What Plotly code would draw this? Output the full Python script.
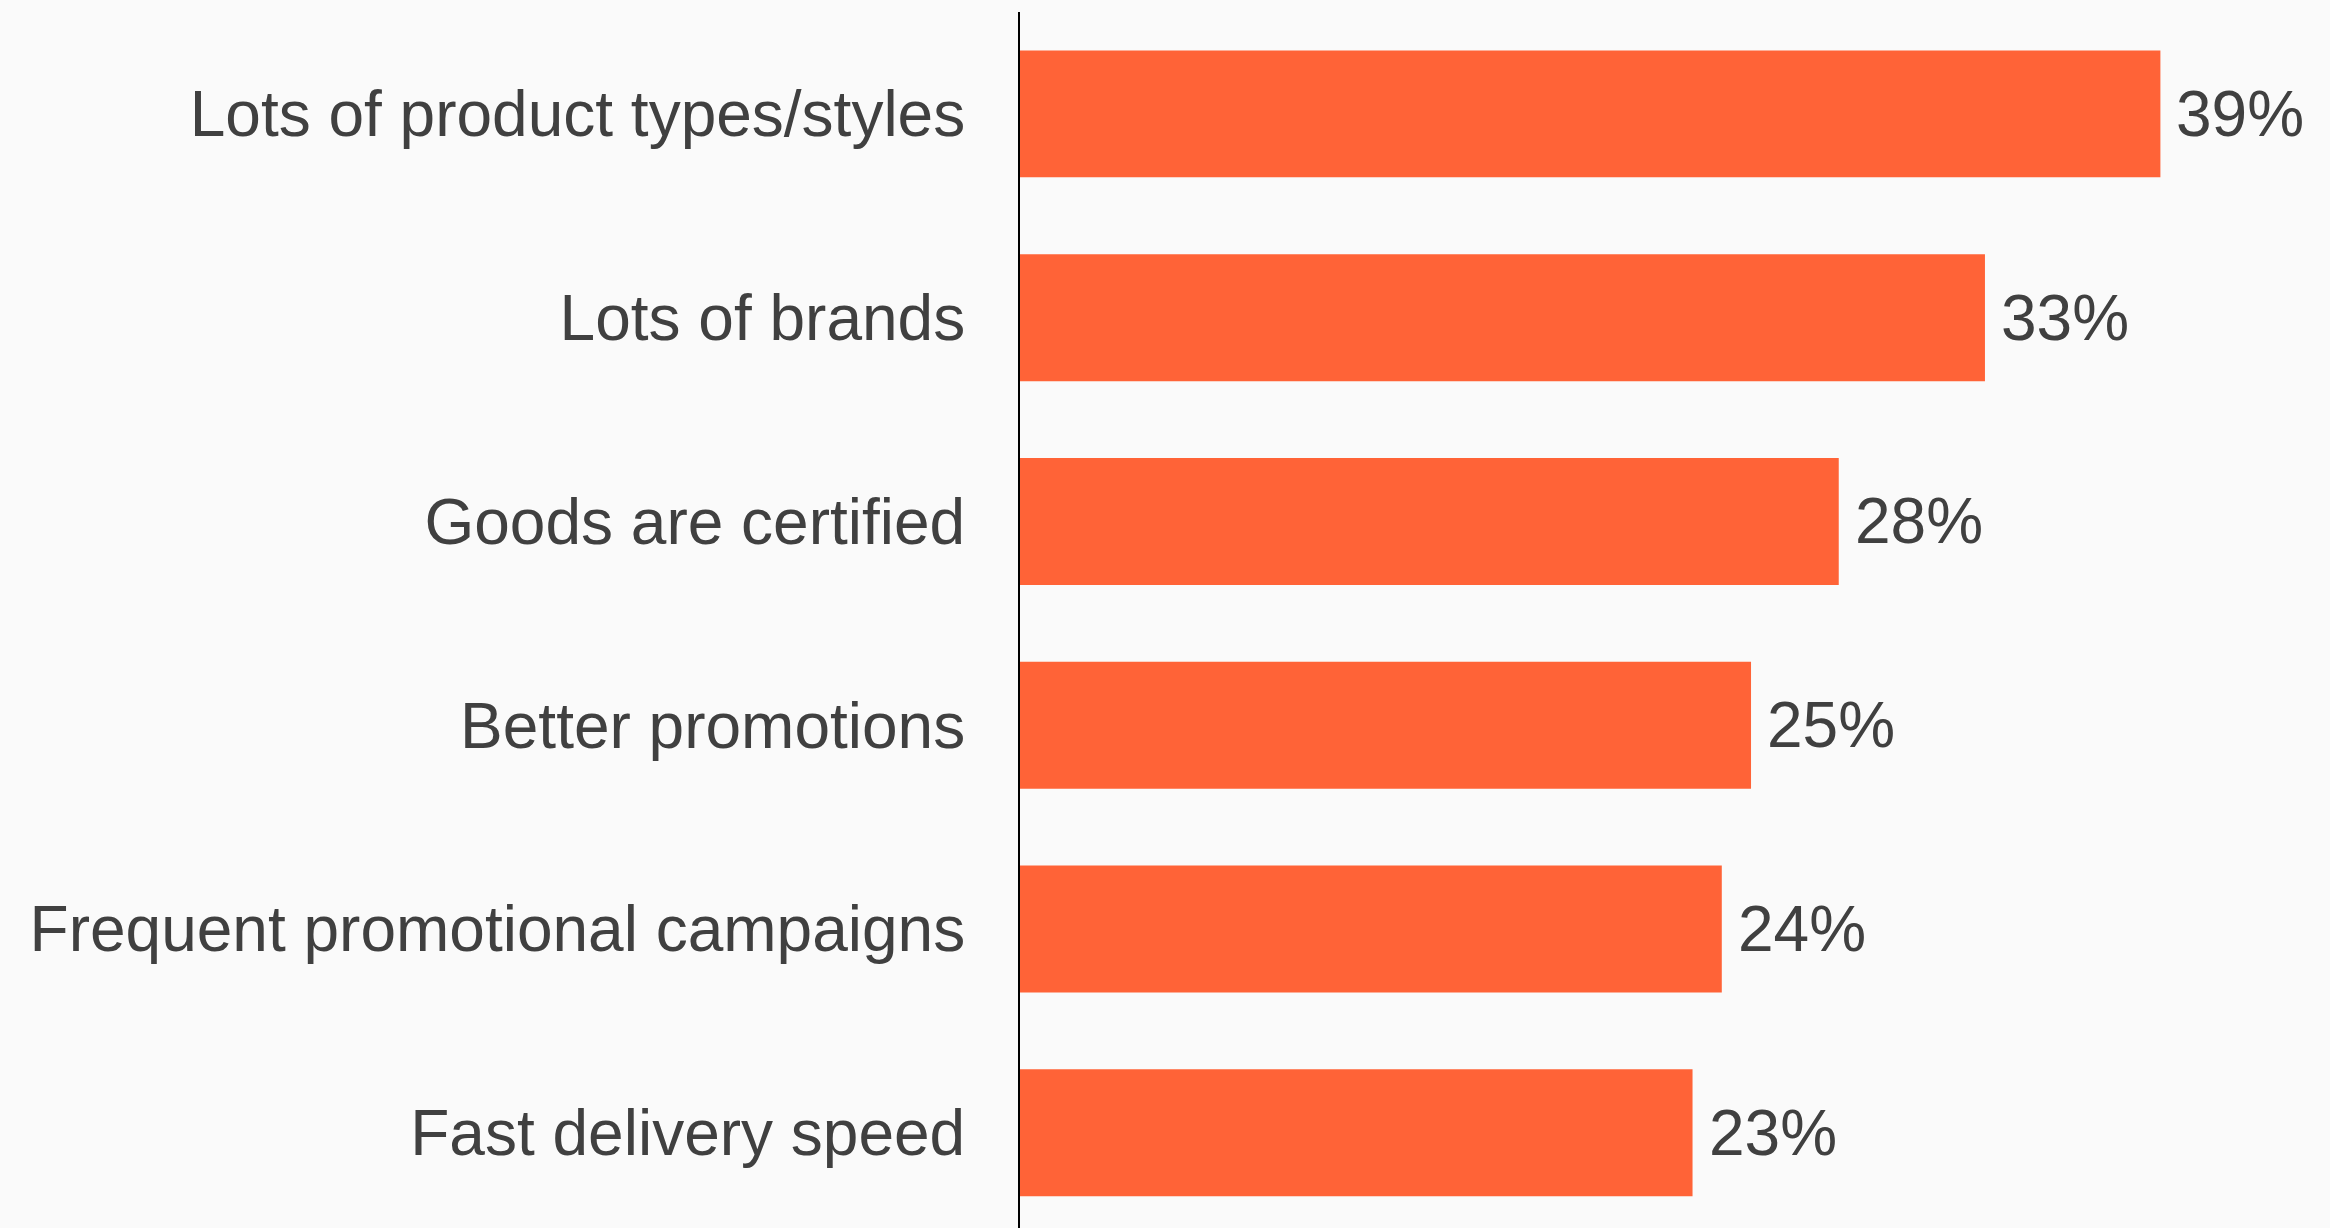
import plotly.graph_objects as go

categories = [
    "Lots of product types/styles",
    "Lots of brands",
    "Goods are certified",
    "Better promotions",
    "Frequent promotional campaigns",
    "Fast delivery speed",
]
values = [39, 33, 28, 25, 24, 23]
value_labels = ["39%", "33%", "28%", "25%", "24%", "23%"]

BAR_COLOR = "#FF6337"
TEXT_COLOR = "#404040"
FONT = "Liberation Sans, Arial, sans-serif"

fig = go.Figure()
fig.add_trace(go.Bar(
    x=values,
    y=categories,
    orientation="h",
    marker=dict(color=BAR_COLOR, line=dict(width=0)),
    width=0.623,
    hoverinfo="skip",
))

for c, v, t in zip(categories, values, value_labels):
    fig.add_annotation(
        x=v, y=c, text=t, showarrow=False,
        xanchor="left", yanchor="middle", xshift=14,
        font=dict(family=FONT, size=64, color=TEXT_COLOR),
    )

fig.update_layout(
    width=2330, height=1228,
    margin=dict(l=1020, r=0, t=12, b=0),
    paper_bgcolor="#FAFAFA",
    plot_bgcolor="#FAFAFA",
    showlegend=False,
    font=dict(family=FONT, size=64, color=TEXT_COLOR),
)
fig.update_xaxes(
    range=[0, 44.8], showgrid=False, zeroline=False, showticklabels=False,
    showline=False, fixedrange=True,
)
fig.update_yaxes(
    categoryorder="array", categoryarray=categories,
    range=[5.467, -0.5], showgrid=False, zeroline=False,
    showline=True, linecolor="black", linewidth=2,
    ticks="", ticklabelstandoff=40, fixedrange=True,
    tickfont=dict(family=FONT, size=64, color=TEXT_COLOR),
)

fig.write_html(
    "out.html",
    config={"displayModeBar": False},
    post_script="document.body.style.margin='0px';document.body.style.background='#FAFAFA';",
)
